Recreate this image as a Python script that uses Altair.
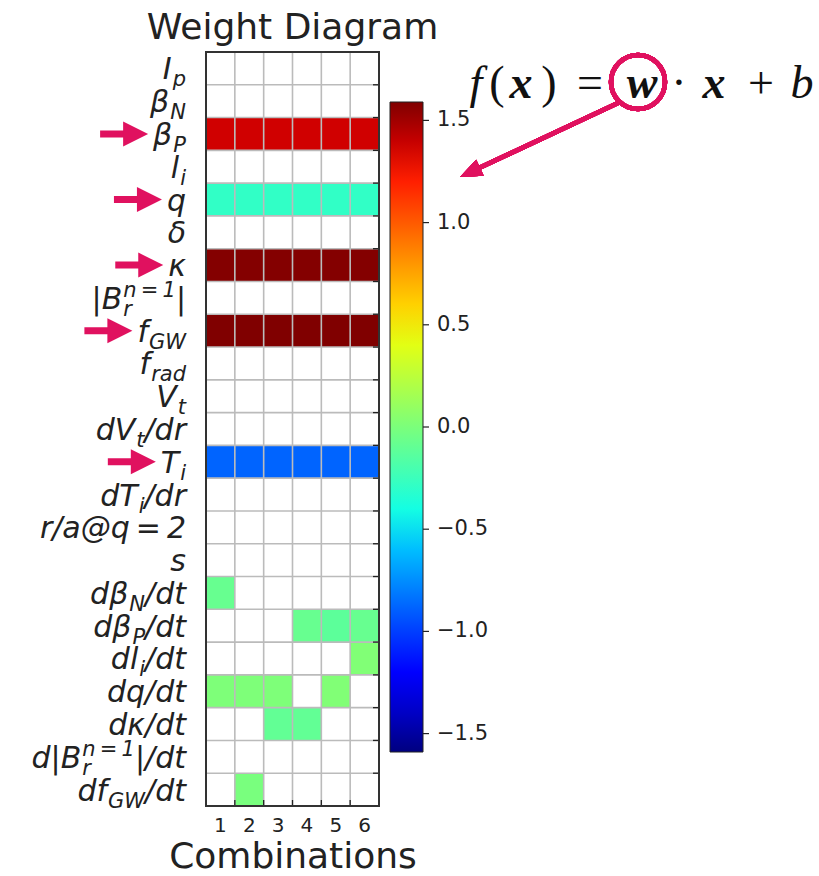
import math

import altair as alt
import pandas as pd

# ---------------------------------------------------------------- data
FEATURES = [
    "Ip", "betaN", "betaP", "li", "q", "delta", "kappa", "Br", "fGW", "frad",
    "Vt", "dVt_dr", "Ti", "dTi_dr", "ra_q2", "s", "dbetaN_dt", "dbetaP_dt",
    "dli_dt", "dq_dt", "dkappa_dt", "dBr_dt", "dfGW_dt",
]
COMBINATIONS = [1, 2, 3, 4, 5, 6]

# Row labels as math pieces: (text, role); role "m" = main, "sub" = subscript,
# "ss" = stacked (subscript, superscript) pair
LABELS = [
    [("I", "m"), ("p", "sub")],
    [("β", "m"), ("N", "sub")],
    [("β", "m"), ("P", "sub")],
    [("l", "m"), ("i", "sub")],
    [("q", "m")],
    [("δ", "m")],
    [("κ", "m")],
    [("|B", "m"), (("r", "n\u2009=\u20091"), "ss"), ("|", "m")],
    [("f", "m"), ("GW", "sub")],
    [("f", "m"), ("rad", "sub")],
    [("V", "m"), ("t", "sub")],
    [("dV", "m"), ("t", "sub"), ("/dr", "m")],
    [("T", "m"), ("i", "sub")],
    [("dT", "m"), ("i", "sub"), ("/dr", "m")],
    [("r/a@q\u2009=\u20092", "m")],
    [("s", "m")],
    [("dβ", "m"), ("N", "sub"), ("/dt", "m")],
    [("dβ", "m"), ("P", "sub"), ("/dt", "m")],
    [("dl", "m"), ("i", "sub"), ("/dt", "m")],
    [("dq/dt", "m")],
    [("dκ/dt", "m")],
    [("d|B", "m"), (("r", "n\u2009=\u20091"), "ss"), ("|/dt", "m")],
    [("df", "m"), ("GW", "sub"), ("/dt", "m")],
]

# Weights per feature and combination (None = feature not used)
w_betaP = [1.37, 1.37, 1.37, 1.37, 1.37, 1.37]
w_q = [-0.29, -0.29, -0.29, -0.29, -0.29, -0.29]
w_kappa = [1.58, 1.58, 1.58, 1.58, 1.58, 1.58]
w_fGW = [1.59, 1.59, 1.59, 1.59, 1.59, 1.59]
w_Ti = [-0.88, -0.88, -0.88, -0.88, -0.88, -0.88]
w_dbetaN_dt = [-0.08, None, None, None, None, None]
w_dbetaP_dt = [None, None, None, -0.08, -0.12, -0.08]
w_dli_dt = [None, None, None, None, None, 0.02]
w_dq_dt = [0.01, 0.01, 0.01, None, 0.02, None]
w_dkappa_dt = [None, None, -0.10, -0.10, None, None]
w_dfGW_dt = [None, -0.01, None, None, None, None]

WEIGHTS = {
    "betaP": w_betaP, "q": w_q, "kappa": w_kappa, "fGW": w_fGW, "Ti": w_Ti,
    "dbetaN_dt": w_dbetaN_dt, "dbetaP_dt": w_dbetaP_dt, "dli_dt": w_dli_dt,
    "dq_dt": w_dq_dt, "dkappa_dt": w_dkappa_dt, "dfGW_dt": w_dfGW_dt,
}

HIGHLIGHTED = ["betaP", "q", "kappa", "fGW", "Ti"]

VMIN, VMAX = -1.59, 1.59
CB_TICKS = [-1.5, -1.0, -0.5, 0.0, 0.5, 1.0, 1.5]

# ---------------------------------------------------------------- style
W, H = 173, 754
FONT = "DejaVu Sans"
PINK = "#e0115f"
TEXT = "#222222"

# jet colormap stops
JET_T = [0.0, 0.11, 0.125, 0.34, 0.35, 0.375, 0.64, 0.65, 0.66, 0.89, 0.91, 1.0]
JET_C = ["#000080", "#0000ff", "#0000ff", "#00dbff", "#00e6f7", "#15ffe2",
         "#eeff08", "#f7f600", "#ffec00", "#ff1300", "#e80000", "#800000"]
COLOR_SCALE = alt.Scale(domain=[VMIN + t * (VMAX - VMIN) for t in JET_T],
                        range=JET_C, interpolate="rgb")

Y_SCALE = alt.Scale(domain=FEATURES, paddingInner=0, paddingOuter=0)
X_SCALE = alt.Scale(domain=COMBINATIONS, paddingInner=0, paddingOuter=0)

X_AXIS = alt.Axis(
    title="Combinations", orient="bottom", labelAngle=0, labelFont=FONT,
    labelFontSize=20, labelColor=TEXT, labelPadding=9, ticks=False,
    domain=False, grid=False, titleFont=FONT, titleFontSize=36,
    titleFontWeight="normal", titleColor=TEXT, titlePadding=4,
)

# DejaVu Sans advance widths (em) used to lay out the math labels
EM = {
    "I": 0.295, "p": 0.635, "β": 0.641, "N": 0.748, "P": 0.603, "l": 0.278,
    "i": 0.278, "q": 0.635, "δ": 0.612, "κ": 0.591, "|": 0.337, "B": 0.686,
    "r": 0.411, "n": 0.634, " ": 0.318, "\u2009": 0.2, "=": 0.838, "1": 0.636,
    "2": 0.636, "f": 0.352, "G": 0.775, "W": 0.989, "a": 0.613, "d": 0.635,
    "V": 0.684, "t": 0.392, "/": 0.337, "T": 0.611, "@": 1.0, "s": 0.521,
}
MAIN_SIZE, SUB_SIZE = 30, 21
LABEL_RIGHT = -20


def text_width(s, size):
    return sum(EM.get(ch, 0.6) for ch in s) * size


# ---------------------------------------------------------------- tables
cells = []
for feat in FEATURES:
    row = WEIGHTS.get(feat)
    if row is None:
        continue
    for comb, w in zip(COMBINATIONS, row):
        if w is not None:
            cells.append({"feature": feat, "comb": comb, "w": w})
cells = pd.DataFrame(cells)

segments = []
label_left = {}
for feat, pieces in zip(FEATURES, LABELS):
    cursor = 0.0
    segs = []
    for content, role in pieces:
        if role == "m":
            segs.append((content, "m", cursor))
            cursor += text_width(content, MAIN_SIZE)
        elif role == "sub":
            cursor += 1
            segs.append((content, "sub", cursor))
            cursor += text_width(content, SUB_SIZE)
        else:
            sub, sup = content
            cursor += 1
            segs.append((sub, "sub", cursor))
            segs.append((sup, "sup", cursor))
            cursor += max(text_width(sub, SUB_SIZE), text_width(sup, SUB_SIZE))
    shift = LABEL_RIGHT - cursor
    for text, role, x in segs:
        segments.append({"feature": feat, "text": text, "role": role, "xpos": x + shift})
    label_left[feat] = shift
segments = pd.DataFrame(segments)

arrows = []
for feat in HIGHLIGHTED:
    tip = label_left[feat] - 5
    arrows.append({"feature": feat, "tail": tip - 48, "head": tip - 12.5})
arrows = pd.DataFrame(arrows)

boundaries_y = pd.DataFrame({"feature": FEATURES[1:]})
boundaries_x = pd.DataFrame({"comb": COMBINATIONS[1:]})

# formula f(x) = w·x + b, placed to the upper right of the grid
formula = pd.DataFrame({
    "text": ["f", "(", "x", ")", "=", "w", "·", "x", "+", "b"],
    "style": ["it", "rm", "bf", "rm", "rm", "bf", "rm", "bf", "rm", "it"],
    "cx": [270, 291, 315, 343, 384, 436, 473, 508, 555, 596],
})
FORMULA_BASE = 46
CIRCLE_C = (432, 30)
POINTER_FROM = (412, 51)
POINTER_TIP = (254, 125)

# ---------------------------------------------------------------- layers
heat = alt.Chart(cells).mark_rect().encode(
    x=alt.X("comb:O", scale=X_SCALE, axis=X_AXIS),
    y=alt.Y("feature:N", scale=Y_SCALE, axis=alt.Axis(
        title=None, labels=False, ticks=True, tickSize=6, tickColor="#333333",
        tickWidth=1.3, domain=False, grid=False)),
    color=alt.Color("w:Q", scale=COLOR_SCALE, legend=alt.Legend(
        orient="none", legendX=184, legendY=50, title=None, direction="vertical",
        gradientLength=650, gradientThickness=33, values=CB_TICKS,
        format=".1f", labelExpr="replace(datum.label, '-', '−')",
        labelFont=FONT, labelFontSize=21, labelColor=TEXT, labelOffset=14,
        gradientStrokeColor="#222222", gradientStrokeWidth=1, padding=0)),
)

grid_h = alt.Chart(boundaries_y).mark_rule(color="#bbbbbb", strokeWidth=1.6).encode(
    y=alt.Y("feature:N", scale=Y_SCALE, bandPosition=0, axis=None),
    x=alt.value(0), x2=alt.value(W),
)
grid_v = alt.Chart(boundaries_x).mark_rule(color="#bbbbbb", strokeWidth=1.6).encode(
    x=alt.X("comb:O", scale=X_SCALE, bandPosition=0, axis=X_AXIS),
    y=alt.value(0), y2=alt.value(H),
)
ticks_right = alt.Chart(boundaries_y).mark_rule(color="#222222", strokeWidth=1.3).encode(
    y=alt.Y("feature:N", scale=Y_SCALE, bandPosition=0, axis=None),
    x=alt.value(W - 6), x2=alt.value(W),
)
ticks_bottom = alt.Chart(boundaries_x).mark_rule(color="#222222", strokeWidth=1.3).encode(
    x=alt.X("comb:O", scale=X_SCALE, bandPosition=0, axis=X_AXIS),
    y=alt.value(H - 6), y2=alt.value(H),
)
frame = alt.Chart(cells).mark_rect(fillOpacity=0, stroke="#333333", strokeWidth=1.6).encode(
    x=alt.value(0), x2=alt.value(W), y=alt.value(0), y2=alt.value(H),
)


def label_layer(role, size, dy):
    return alt.Chart(segments).transform_filter(alt.datum.role == role).mark_text(
        font=FONT, fontStyle="italic", fontSize=size, color=TEXT,
        align="left", baseline="alphabetic", dy=dy,
    ).encode(
        x=alt.X("xpos:Q", scale=None, axis=None),
        y=alt.Y("feature:N", scale=Y_SCALE, axis=None),
        text="text:N",
    )


labels_main = label_layer("m", MAIN_SIZE, 11)
labels_sub = label_layer("sub", SUB_SIZE, 18)
labels_sup = label_layer("sup", SUB_SIZE, -1)

arrow_shaft = alt.Chart(arrows).mark_rule(color=PINK, strokeWidth=7).encode(
    x=alt.X("tail:Q", scale=None, axis=None), x2="head:Q",
    y=alt.Y("feature:N", scale=Y_SCALE, axis=None),
)
arrow_head = alt.Chart(arrows).mark_point(
    shape="M -1 -1 L 1 0 L -1 1 Z", size=625, filled=True, color=PINK, opacity=1,
).encode(
    x=alt.X("head:Q", scale=None, axis=None),
    y=alt.Y("feature:N", scale=Y_SCALE, axis=None),
)


def formula_layer(style, **font):
    return alt.Chart(formula).transform_filter(alt.datum.style == style).mark_text(
        font="Liberation Serif", fontSize=46, color="#111111",
        align="center", baseline="alphabetic", **font,
    ).encode(
        x=alt.X("cx:Q", scale=None, axis=None),
        y=alt.value(FORMULA_BASE),
        text="text:N",
    )


formula_it = formula_layer("it", fontStyle="italic")
formula_bf = formula_layer("bf", fontStyle="italic", fontWeight="bold")
formula_rm = formula_layer("rm")

circle = alt.Chart(formula).mark_point(
    shape="circle", size=2916, filled=False, stroke=PINK, strokeWidth=4.5, opacity=1,
).encode(x=alt.value(CIRCLE_C[0]), y=alt.value(CIRCLE_C[1]))

# pointer from the circled weight to the colour bar
dx = POINTER_TIP[0] - POINTER_FROM[0]
dy = POINTER_TIP[1] - POINTER_FROM[1]
length = math.hypot(dx, dy)
ux, uy = dx / length, dy / length
head_len = 22
head_c = (POINTER_TIP[0] - ux * head_len / 2, POINTER_TIP[1] - uy * head_len / 2)
pointer_line = alt.Chart(formula).mark_rule(color=PINK, strokeWidth=4.5).encode(
    x=alt.value(POINTER_FROM[0]), y=alt.value(POINTER_FROM[1]),
    x2=alt.value(head_c[0]), y2=alt.value(head_c[1]),
)
pointer_head = alt.Chart(formula).mark_point(
    shape="M 1 0 L -1 -0.8 L -1 0.8 Z", size=head_len ** 2, filled=True,
    color=PINK, opacity=1, angle=math.degrees(math.atan2(uy, ux)) % 360,
).encode(x=alt.value(head_c[0]), y=alt.value(head_c[1]))

main = alt.layer(
    heat, grid_h, grid_v, ticks_right, ticks_bottom, frame,
    labels_main, labels_sub, labels_sup, arrow_shaft, arrow_head,
    formula_it, formula_bf, formula_rm, circle, pointer_line, pointer_head,
)

# small tick marks on the right side of the colour bar
cb_ticks = alt.Chart(pd.DataFrame({"v": CB_TICKS})).mark_rule(
    color="#222222", strokeWidth=1.2,
).encode(
    y=alt.Y("v:Q", scale=alt.Scale(domain=[VMIN, VMAX], range=[700, 50]), axis=None),
    x=alt.value(184 + 33), x2=alt.value(184 + 39),
)

chart = alt.layer(main, cb_ticks).resolve_scale(y="independent").properties(
    width=W,
    height=H,
    title=alt.TitleParams(
        "Weight Diagram", font=FONT, fontSize=36, fontWeight="normal", color=TEXT,
        anchor="middle", frame="group", baseline="alphabetic", offset=13, dy=42,
    ),
    autosize=alt.AutoSizeParams(type="none"),
    padding={"left": 206, "top": 52, "right": 440, "bottom": 70},
).configure_view(stroke=None).configure(background="white")

chart.save("out.html", embed_options={"renderer": "svg", "actions": False})
